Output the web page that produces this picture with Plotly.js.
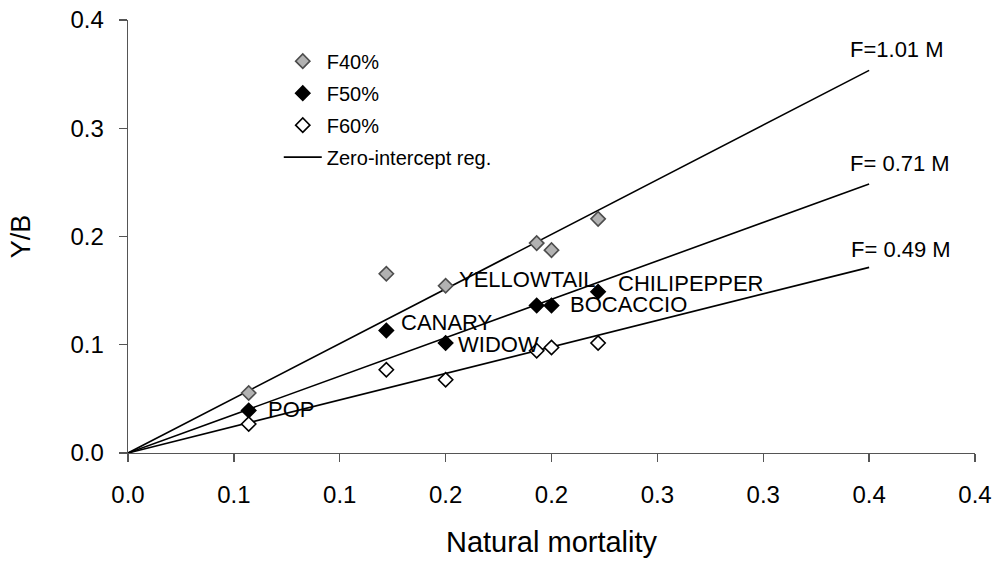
<!DOCTYPE html>
<html>
<head>
<meta charset="utf-8">
<script src="https://cdn.plot.ly/plotly-3.0.1.min.js"></script>
<style>html,body{margin:0;padding:0;background:#fff;}#chart{width:1000px;height:565px;}</style>
</head>
<body>
<div id="chart"></div>
<script>
// ---- data ----
const species = ["POP", "CANARY", "WIDOW", "YELLOWTAIL", "BOCACCIO", "CHILIPEPPER"];
const naturalMortality = [0.057, 0.122, 0.15, 0.193, 0.2, 0.222];
const yb_F40 = [0.0554, 0.1656, 0.1545, 0.1939, 0.1874, 0.2163];
const yb_F50 = [0.0393, 0.1132, 0.1016, 0.1363, 0.1363, 0.149];
const yb_F60 = [0.0268, 0.0769, 0.0677, 0.0945, 0.0975, 0.1016];
const seriesNames = ["F40%", "F50%", "F60%"];
const regSlopes = [1.01, 0.71, 0.49];
const regLabels = ["F=1.01 M", "F= 0.71 M", "F= 0.49 M"];
const regRangeM = [0, 0.35];
const xTickVals = [0, 0.05, 0.1, 0.15, 0.2, 0.25, 0.3, 0.35, 0.4];
const xTickText = ["0.0", "0.1", "0.1", "0.2", "0.2", "0.3", "0.3", "0.4", "0.4"];
const yTickVals = [0, 0.1, 0.2, 0.3, 0.4];
const yTickText = ["0.0", "0.1", "0.2", "0.3", "0.4"];

// ---- styling / placement (layout only) ----
const FONT = "Liberation Sans, Arial, sans-serif";
const markerStyles = [
  {fill: "#b2b2b2", line: "#4d4d4d"},
  {fill: "#000000", line: "#000000"},
  {fill: "#ffffff", line: "#000000"}
];
const speciesLabelPos = {
  POP: [0.0653, 0.040], CANARY: [0.1279, 0.1206], WIDOW: [0.155, 0.1006],
  YELLOWTAIL: [0.1555, 0.160], BOCACCIO: [0.2076, 0.137], CHILIPEPPER: [0.2304, 0.157]
};
const regLabelPos = [[0.340, 0.3724], [0.340, 0.2678], [0.3404, 0.1884]];

const traces = [];
// regression lines first (drawn under markers)
regSlopes.forEach((s, i) => {
  traces.push({
    type: "scatter", mode: "lines",
    x: regRangeM, y: regRangeM.map(m => s * m),
    line: {color: "#000", width: 1.6},
    name: "Zero-intercept reg.",
    showlegend: i === 0,
    legendgroup: "reg", legendrank: 4,
    hoverinfo: "skip"
  });
});
[yb_F40, yb_F50, yb_F60].forEach((ys, i) => {
  traces.push({
    type: "scatter", mode: "markers",
    x: naturalMortality, y: ys,
    name: seriesNames[i],
    legendgroup: "g" + i, legendrank: i + 1,
    marker: {symbol: "diamond", size: 11, color: markerStyles[i].fill,
             line: {color: markerStyles[i].line, width: 1.6}}
  });
});

const annotations = [];
species.forEach(sp => {
  const p = speciesLabelPos[sp];
  annotations.push({x: p[0], y: p[1], xref: "x", yref: "y", text: sp, showarrow: false,
    xanchor: "left", yanchor: "middle", font: {family: FONT, size: 22, color: "#000"}});
});
regLabels.forEach((t, i) => {
  const p = regLabelPos[i];
  annotations.push({x: p[0], y: p[1], xref: "x", yref: "y", text: t, showarrow: false,
    xanchor: "left", yanchor: "middle", font: {family: FONT, size: 22, color: "#000"}});
});

const layout = {
  width: 1000, height: 565,
  margin: {l: 128, r: 25, t: 20, b: 112, pad: 0},
  paper_bgcolor: "#fff", plot_bgcolor: "#fff",
  font: {family: FONT, color: "#000"},
  showlegend: true,
  legend: {x: 0.178, y: 0.95, xanchor: "left", yanchor: "top",
    bgcolor: "rgba(0,0,0,0)", font: {family: FONT, size: 20, color: "#000"},
    tracegroupgap: 3, traceorder: "grouped", itemwidth: 38},
  xaxis: {
    range: [0, 0.4], tickmode: "array", tickvals: xTickVals, ticktext: xTickText,
    showgrid: false, zeroline: false, showline: true, linecolor: "#555", linewidth: 1.3,
    ticks: "outside", ticklen: 8, tickcolor: "#555", tickwidth: 1.3,
    ticklabelstandoff: 12,
    tickfont: {family: FONT, size: 24, color: "#000"},
    title: {text: "Natural mortality", font: {family: FONT, size: 29, color: "#000"}, standoff: 24}
  },
  yaxis: {
    range: [0, 0.4], tickmode: "array", tickvals: yTickVals, ticktext: yTickText,
    showgrid: false, zeroline: false, showline: true, linecolor: "#555", linewidth: 1.3,
    ticks: "outside", ticklen: 8, tickcolor: "#555", tickwidth: 1.3,
    ticklabelstandoff: 10,
    tickfont: {family: FONT, size: 24, color: "#000"},
    title: {text: "Y/B", font: {family: FONT, size: 27, color: "#000"}, standoff: 32}
  },
  annotations: annotations
};

Plotly.newPlot("chart", traces, layout, {displayModeBar: false, staticPlot: true});
</script>
</body>
</html>
